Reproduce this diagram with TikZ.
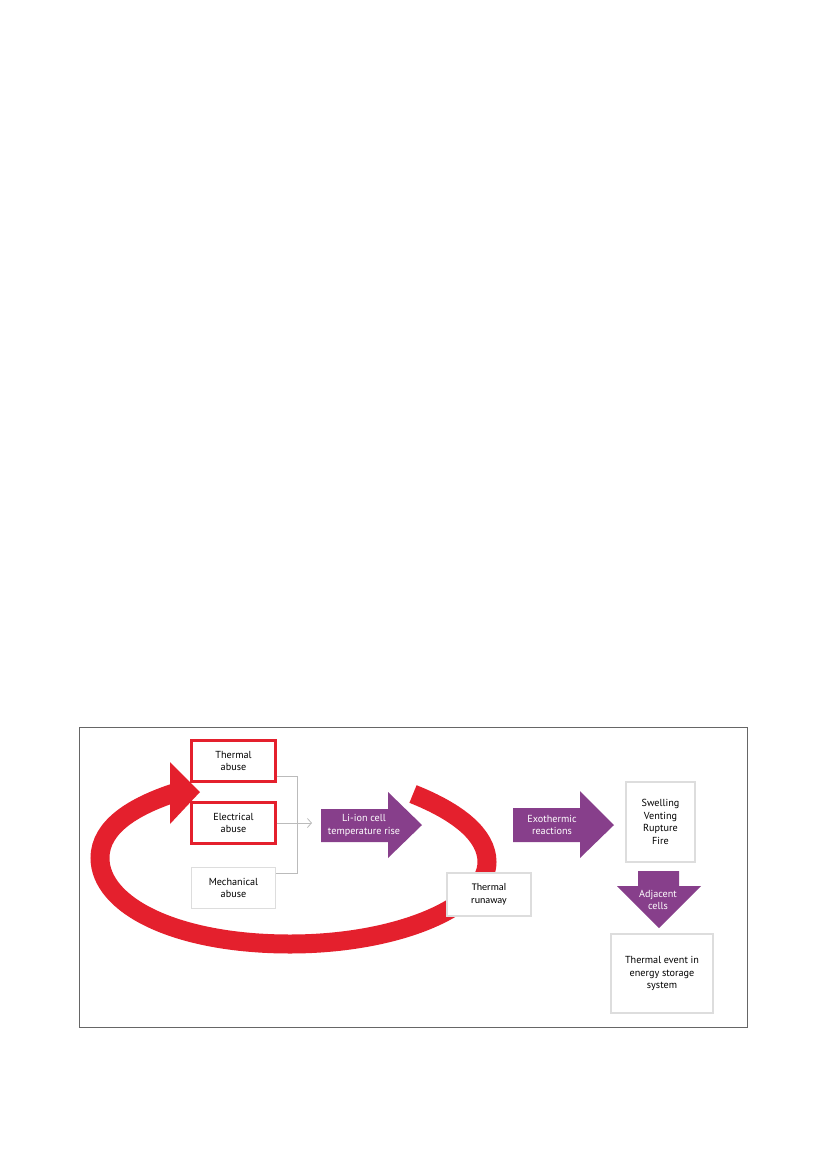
\documentclass[tikz,border=0pt]{standalone}
\usepackage{fontspec}
\setmainfont{PT Sans}
\newfontfamily\calib{Carlito}
\usetikzlibrary{arrows.meta}
\definecolor{loopred}{HTML}{E4202D}
\definecolor{purp}{HTML}{873F8B}
\definecolor{boxgray}{HTML}{DDDDDD}
\definecolor{linegray}{HTML}{BBBBBB}
\definecolor{framegray}{HTML}{666666}
\tikzset{
  txt/.style={font=\fontsize{10.2}{12.8}\selectfont, align=center, inner sep=0pt},
  redbox/.style={draw=loopred, line width=2.2pt, fill=white, minimum width=84pt, minimum height=41pt, txt},
  graybox/.style={draw=boxgray, line width=1.6pt, fill=white, txt},
  wtxt/.style={txt, text=white},
  conn/.style={draw=linegray, line width=0.8pt},
  purparrow/.style={fill=purp, draw=none},
}
\begin{document}
\begin{tikzpicture}[x=1pt,y=-1pt]
\useasboundingbox (0,0) rectangle (827,1169);
% frame
\draw[framegray, line width=1pt] (79,727) rectangle (747,1027);

% red loop
\draw[loopred, line width=19pt, line cap=butt]
  (413,794) .. controls (458,812) and (487,835) .. (487,862)
  .. controls (487,905) and (400,944) .. (290,944)
  .. controls (175,944) and (100,905) .. (100,858)
  .. controls (100,826) and (135,806) .. (174,793);
\fill[loopred] (170,762) -- (200,792) -- (170,824) -- cycle;

% abuse boxes
\node[redbox] (ta) at (233.5,761) {Thermal\\abuse};
\node[redbox] (ea) at (233.5,823) {Electrical\\abuse};
\node[graybox, minimum width=84pt, minimum height=41pt] (ma) at (233.5,888) {Mechanical\\abuse};

% connectors
\coordinate (j) at (297,823);
\coordinate (jt) at (297,776);
\coordinate (jb) at (297,873);
\coordinate (arrend) at (312,823);
\draw[conn] (ta.east |- jt) -- (jt) -- (jb) -- (ma.east |- jb);
\draw[conn, -{Straight Barb[length=4pt,width=9pt,line width=0.8pt]}] (ea.east) -- (arrend);

% Li-ion arrow
\fill[purparrow] (321,809) -- (388,809) -- (388,792) -- (422,825) -- (388,858) -- (388,842) -- (321,842) -- cycle;
\node[wtxt] (li) at (364,825) {Li-ion cell\\temperature rise};

% Exothermic arrow
\fill[purparrow] (513,808) -- (580,808) -- (580,791) -- (614,825) -- (580,858) -- (580,842) -- (513,842) -- cycle;
\node[wtxt] (ex) at (552,825) {Exothermic\\reactions};

% Swelling box
\node[graybox, minimum width=69pt, minimum height=80pt] (sw) at (660.5,822) {Swelling\\Venting\\Rupture\\Fire};

% Adjacent cells arrow
\fill[purparrow] (638,871) -- (679,871) -- (679,886) -- (701,886) -- (659,928) -- (617,886) -- (638,886) -- cycle;
\node[wtxt] (adj) at (658,900) {Adjacent\\cells};

% Thermal event box
\node[graybox, minimum width=102pt, minimum height=79pt] (te) at (662,973.5) {Thermal event in\\energy storage\\system};

% Thermal runaway
\node[graybox, minimum width=84pt, minimum height=43pt, font=\calib\fontsize{10.2}{12.6}\selectfont] (tr) at (489,894.5) {Thermal\\runaway};
\end{tikzpicture}
\end{document}
